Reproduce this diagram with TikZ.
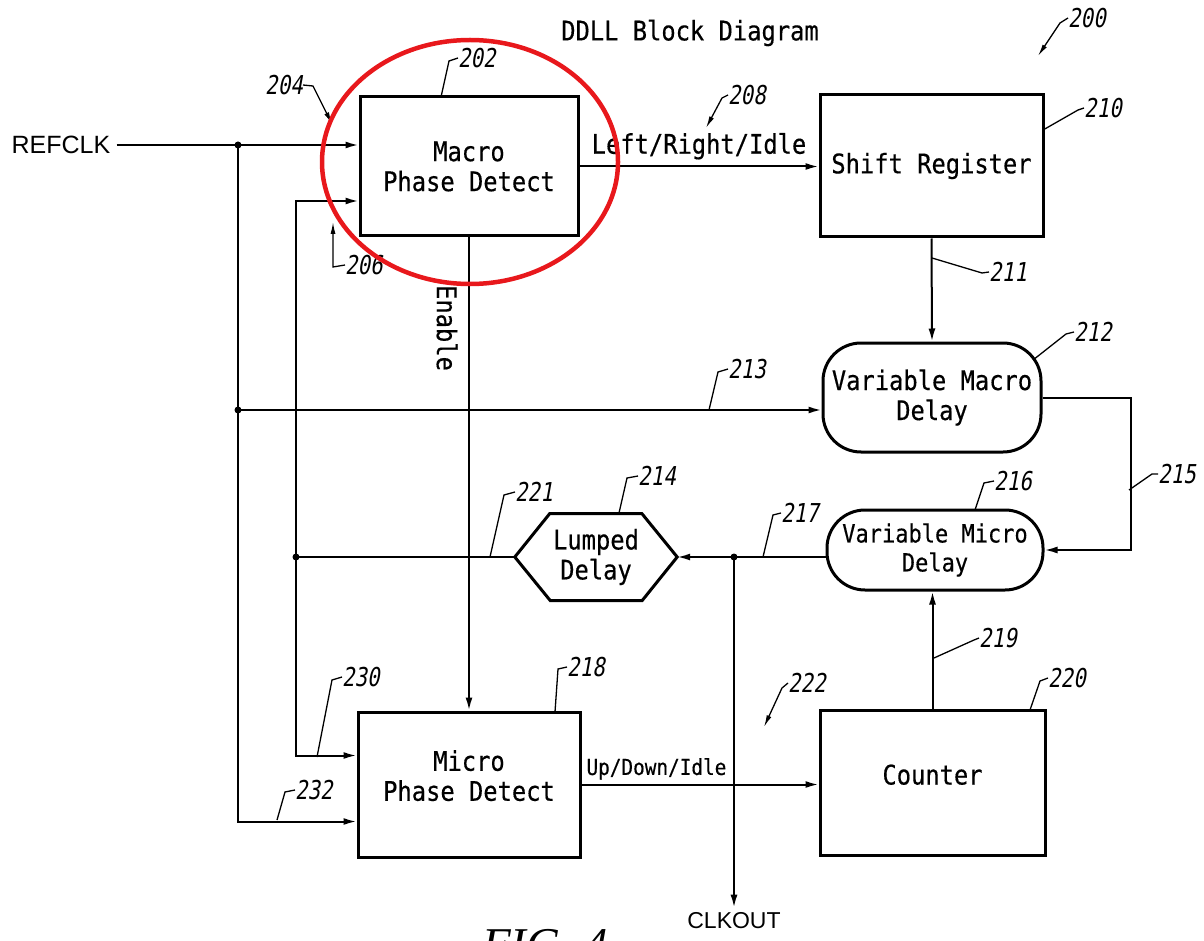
\documentclass[tikz,border=0pt]{standalone}
\usepackage{fontspec}
\setmainfont{Liberation Sans}
\newfontfamily\leroy{DejaVu Sans Mono}[FakeStretch=0.88, FakeBold=0.4]
\newfontfamily\leroynum{DejaVu Sans Mono}[FakeStretch=0.8, FakeSlant=0.18]
\newfontfamily\figfont{Liberation Serif}
\usetikzlibrary{arrows.meta}
\definecolor{markred}{RGB}{232,24,28}

\begin{document}
\begin{tikzpicture}[x=1pt, y=-1pt, every node/.style={inner sep=0pt, font=\leroy\fontsize{27}{30}\selectfont},
	blk/.style={draw, line width=3pt, align=center},
	dly/.style={blk, rounded corners=38pt},
	wire/.style={line width=2pt},
	arr/.style={wire, -{Latex[length=13pt, width=7pt]}},
	num/.style={anchor=west, font=\leroynum\fontsize{26}{26}\selectfont},
	lead/.style={line width=1.3pt},
	tag/.style={lead, -{Latex[length=12pt, width=5pt]}},
	jdot/.style={circle, fill, minimum size=7pt}]
	\useasboundingbox (0,0) rectangle (1204,941);
	\node (title) at (690,33) {DDLL Block Diagram};
	\node[blk, minimum width=218pt, minimum height=139pt] (mpd) at (469,166.5) {Macro\\Phase Detect};
	\node[blk, minimum width=223pt, minimum height=142pt] (sr) at (931.5,166) {Shift Register};
	\node[dly, minimum width=218pt, minimum height=109pt] (vmac) at (932,397.5) {Variable Macro\\Delay};
	\node[dly, minimum width=216pt, minimum height=80pt, font=\leroy\fontsize{25}{29}\selectfont] (vmic) at (935,550) {Variable Micro\\Delay};
	\node[minimum width=162pt, minimum height=87pt, align=center] (lump) at (596,557) {Lumped\\Delay};
	\draw[line width=3pt] (lump.west) -- ++(35,-43.5) -- ++(92,0) -- (lump.east) -- ++(-35,43.5) -- ++(-92,0) -- cycle;
	\node[blk, minimum width=222pt, minimum height=145pt] (upd) at (469,784.5) {Micro\\Phase Detect\rule[-18pt]{0pt}{0pt}};
	\node[blk, minimum width=225pt, minimum height=145pt] (cnt) at (932.5,782.5) {Counter\rule[-16pt]{0pt}{0pt}};
	\node[font=\fontsize{25}{25}\selectfont] (refclk) at (61,145) {REFCLK};
	\node[font=\fontsize{23}{23}\selectfont] (clkout) at (734,921) {CLKOUT};
	\node[rotate=-90] (enable) at (447,328) {Enable};

	\coordinate (ja) at (238,145);
	\coordinate (jb) at (238,410);
	\coordinate (jc) at (296,557);
	\coordinate (jd) at (734,557);
	\coordinate (mpdin) at ([yshift=36.5pt]mpd.south west);
	\coordinate (updin1) at ([yshift=-45pt]upd.north west);
	\coordinate (updin2) at ([yshift=37pt]upd.south west);

	\draw[arr] ([xshift=6pt]refclk.east) -- (mpd.west |- ja);
	\draw[arr] (ja) |- (updin2);
	\draw[arr] (jb) -- (vmac.west |- jb);
	\draw[arr] (jc) |- (mpdin);
	\draw[arr] (jc) |- (updin1);
	\draw[wire] (lump.west) -- (jc);
	\draw[arr] (vmic.west |- lump.east) -- (lump.east);
	\draw[arr] (jd) -- ([yshift=5pt]clkout.north);
	\draw[arr] (mpd.east) -- (sr.west |- mpd.east) node[midway, above=6pt] (lri) {Left/Right/Idle};
	\draw[arr] (mpd.south) -- (mpd.south |- upd.north);
	\draw[arr] (sr.south) -- (vmac.north);
	\draw[arr] (vmac.east) -- ++(88,0) |- (vmic.east);
	\draw[arr] (upd.east) -- (cnt.west |- upd.east) node[pos=0, anchor=south west, xshift=4pt, yshift=4pt, font=\leroy\fontsize{22}{22}\selectfont] (udi) {Up/Down/Idle};
	\draw[arr] (cnt.north) -- (cnt.north |- vmic.south);
	\foreach \j in {ja,jb,jc,jd}
		\node[jdot] (dot-\j) at (\j) {};

	\foreach \n/\sx/\sy/\bx/\by/\lx/\ly in {202/441/97/449/61/458/58, 210/1043/130/1078/110/1084/108,
		211/932/258/982/273/989/272, 212/1033/360/1066/334/1074/332, 213/709/410/718/372/728/369,
		214/619/513/627/478/638/476, 215/1129/490/1152/474/1158/474, 216/975/510/984/483/994/481,
		217/763/557/773/515/781/513, 218/555/712/558/669/567/667, 219/934/658/974/640/979/638,
		220/1030/710/1040/681/1048/678, 221/490/557/504/495/515/492, 230/317/757/332/680/342/677,
		232/277/820/285/792/295/790}
	{
		\node[num] (n\n) at (\lx,\ly) {\n};
		\draw[lead] (\sx,\sy) -- (\bx,\by) -- (n\n.west);
	}
	\node[num] (n200) at (1068,18) {200};
	\draw[tag] (n200.west) -- (1060,23) -- (1038,56);
	\node[num] (n208) at (728,95) {208};
	\draw[tag] (n208.west) -- (722,98) -- (706,128);
	\node[num] (n222) at (788,683) {222};
	\draw[tag] (n222.west) -- (782,688) -- (764,727);
	\node[num, anchor=east] (n204) at (303,85) {204};
	\draw[tag] (n204.east) -- (313,86) -- (332,124);
	\node[num] (n206) at (345,265) {206};
	\draw[tag] (n206.west) -- (333,267) -- (333,222);

	\draw[markred, line width=4.5pt] (470,162) ellipse [x radius=148pt, y radius=122pt];
	\node[anchor=base west, font=\figfont\itshape\fontsize{47}{47}\selectfont] (fig) at (482,960) {FIG. 4};
\end{tikzpicture}
\end{document}
